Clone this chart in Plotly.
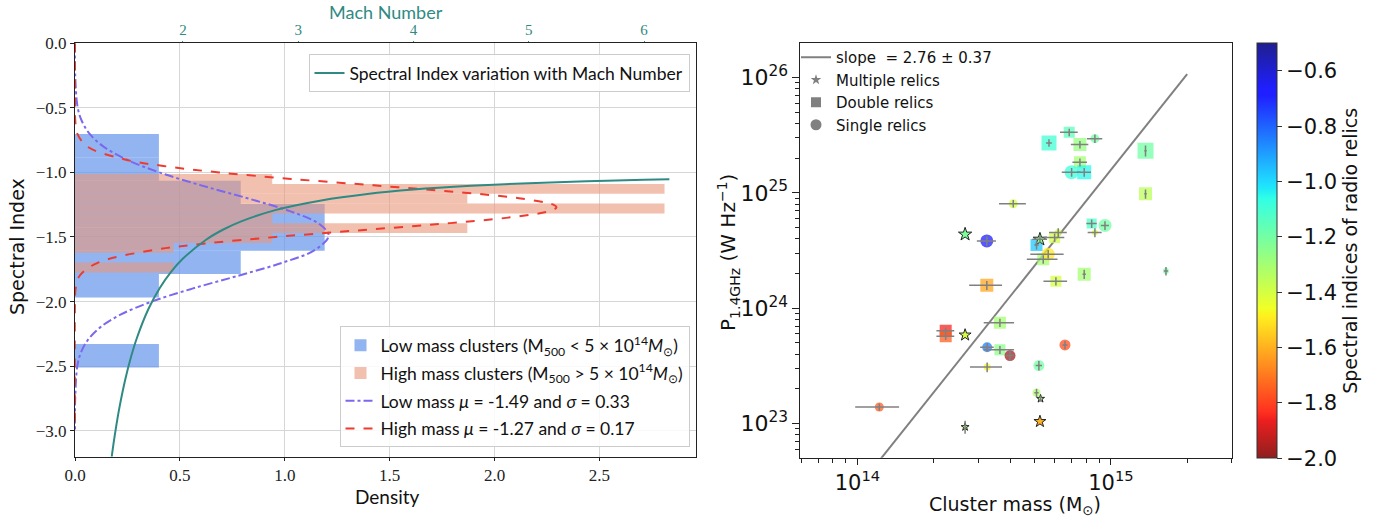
import plotly.graph_objects as go

# ---------------- Left panel data ----------------
LOW_BIN_EDGES = [-0.703, -0.884, -1.064, -1.245, -1.426, -1.606, -1.787, -1.968, -2.148, -2.329, -2.510]
LOW_DENSITY = [0.40, 0.40, 0.79, 1.19, 1.19, 0.79, 0.40, 0.0, 0.0, 0.40]
HIGH_BIN_EDGES = [-1.013, -1.089, -1.165, -1.241, -1.318, -1.394, -1.470, -1.546, -1.622, -1.698, -1.775]
HIGH_DENSITY = [0.94, 2.81, 1.87, 2.81, 0.94, 1.87, 0.94, 0.47, 0.0, 0.47]

LOW_FIT_ALPHA = [0.0, -0.25, -0.5, -0.6, -0.7, -0.8, -0.9, -1.0, -1.1, -1.2, -1.3, -1.4, -1.49,
                 -1.6, -1.7, -1.8, -1.9, -2.0, -2.1, -2.2, -2.3, -2.4, -2.5, -2.75, -3.0]
LOW_FIT_DENSITY = [0.0, 0.001, 0.013, 0.032, 0.069, 0.136, 0.245, 0.402, 0.601, 0.822, 1.024, 1.165, 1.209,
                   1.144, 0.987, 0.778, 0.559, 0.366, 0.219, 0.120, 0.060, 0.027, 0.011, 0.001, 0.0]
HIGH_FIT_ALPHA = [0.0, -0.5, -0.6, -0.7, -0.8, -0.9, -0.95, -1.0, -1.05, -1.1, -1.15, -1.2, -1.25, -1.27,
                  -1.3, -1.35, -1.4, -1.45, -1.5, -1.55, -1.6, -1.7, -1.8, -1.9, -2.0, -3.0]
HIGH_FIT_DENSITY = [0.0, 0.0001, 0.0014, 0.011, 0.059, 0.238, 0.421, 0.687, 1.030, 1.423, 1.808, 2.116, 2.280, 2.295,
                    2.261, 2.064, 1.735, 1.342, 0.956, 0.627, 0.378, 0.108, 0.022, 0.003, 0.0, 0.0]

MACH = [1.37, 1.40, 1.42, 1.45, 1.50, 1.55, 1.60, 1.70, 1.80, 1.90, 2.00, 2.20, 2.35, 2.50, 2.80,
        3.20, 3.60, 4.00, 4.50, 5.00, 5.50, 6.00, 6.22]
MACH_ALPHA = [-3.281, -3.083, -2.968, -2.814, -2.600, -2.426, -2.282, -2.058, -1.893, -1.766, -1.667,
              -1.521, -1.442, -1.381, -1.292, -1.217, -1.167, -1.133, -1.104, -1.083, -1.068, -1.057, -1.053]

DENSITY_TICKS = [0.0, 0.5, 1.0, 1.5, 2.0, 2.5]
INDEX_TICKS = [0.0, -0.5, -1.0, -1.5, -2.0, -2.5, -3.0]
MACH_TICKS = [2, 3, 4, 5, 6]

# ---------------- Right panel data ----------------
# mass in 1e14 Msun, power in 1e24 W/Hz
SINGLE_MASS = [3.24, 4.12, 8.65, 7.00, 9.48, 5.66, 3.25, 4.00, 6.59, 3.25, 5.20, 5.09, 1.22, 16.5, 8.65, 6.20]
SINGLE_POWER = [3.83, 8.05, 29.5, 15.1, 5.22, 2.94, 0.458, 0.388, 0.48, 0.308, 0.318, 0.185, 0.139, 2.10, 4.52, 4.52]
SINGLE_INDEX = [-0.68, -1.40, -1.20, -1.08, -1.20, -1.50, -0.85, -1.97, -1.78, -1.48, -1.20, -1.32, -1.75, -1.20, -1.42, -1.40]
SINGLE_SIZE = [13, 9, 9, 14, 13, 13, 10, 11, 11, 7, 11, 8, 9, 6, 6, 7]
SINGLE_MASS_ERR = [0.28, 0.50, 0.60, 0.60, 0.35, 0.85, 0.20, 0.15, 0.15, 0.47, 0.15, 0.10, 0.24, 0.30, 0.55, 0.50]
SINGLE_POWER_ERR = [0.35, 0.60, 2.5, 1.3, 0.45, 0.25, 0.04, 0.04, 0.04, 0.03, 0.03, 0.015, 0.01, 0.18, 0.40, 0.40]

DOUBLE_MASS = [5.70, 6.85, 7.55, 7.55, 7.85, 13.7, 13.7, 5.09, 6.00, 5.41, 6.07, 7.85, 3.24, 3.65, 3.65, 2.23, 2.23, 8.40]
DOUBLE_POWER = [27.1, 33.5, 26.2, 18.4, 15.1, 23.2, 9.8, 3.53, 4.09, 2.65, 1.71, 1.97, 1.58, 0.748, 0.435, 0.638, 0.570, 5.41]
DOUBLE_INDEX = [-1.10, -1.15, -1.27, -1.30, -1.05, -1.20, -1.35, -0.97, -1.40, -1.30, -1.40, -1.30, -1.62, -1.30, -1.25, -1.85, -1.75, -1.12]
DOUBLE_SIZE = [15, 11, 13, 12, 14, 16, 13, 12, 11, 12, 11, 13, 13, 12, 11, 12, 12, 10]
DOUBLE_MASS_ERR = [0.15, 0.55, 0.60, 0.50, 0.50, 0.15, 0.15, 0.10, 0.55, 0.75, 0.65, 0.12, 0.48, 0.50, 0.50, 0.18, 0.18, 0.40]
DOUBLE_POWER_ERR = [2.0, 2.5, 2.0, 1.5, 1.3, 2.5, 0.9, 0.30, 0.35, 0.22, 0.14, 0.18, 0.14, 0.06, 0.035, 0.04, 0.04, 0.45]

MULTI_MASS = [2.66, 5.25, 2.66, 2.66, 5.28, 5.25]
MULTI_POWER = [4.37, 3.95, 0.585, 0.0933, 0.164, 0.104]
MULTI_INDEX = [-1.22, -1.25, -1.40, -1.30, -1.30, -1.60]
MULTI_SIZE = [10, 10, 9, 6, 6, 9]
MULTI_MASS_ERR = [0.0, 0.35, 0.0, 0.0, 0.0, 0.0]
MULTI_POWER_ERR = [0.0, 0.3, 0.0, 0.012, 0.01, 0.0]

FIT_MASS = [1.0, 20.0]
FIT_POWER = [0.0275, 107.0]

LABELS = ["Seahorse", "R2", "R3"]
LABEL_MASS = [2.66, 2.66, 2.66]
LABEL_POWER = [6.3, 0.80, 0.128]

MASS_TICKS = [1e14, 1e15]
POWER_TICKS = [1e23, 1e24, 1e25, 1e26]
CBAR_TICKS = [-0.6, -0.8, -1.0, -1.2, -1.4, -1.6, -1.8, -2.0]

MASS_UNIT = 1e14
POWER_UNIT = 1e24

# ---------------- styles ----------------
W, H = 1396, 521
TEAL = "#2f8a84"
SERIF = "Liberation Serif"
CMSANS = "Lato"
SANS = "DejaVu Sans"


def px_x(px):
    return px / W


def px_y(py):
    return 1 - py / H


def jet_r_light(alpha=0.88):
    red = [(0, 0), (0.35, 0), (0.66, 1), (0.89, 1), (1, 0.5)]
    green = [(0, 0), (0.125, 0), (0.375, 1), (0.64, 1), (0.91, 0), (1, 0)]
    blue = [(0, 0.5), (0.11, 1), (0.34, 1), (0.65, 0), (1, 0)]

    def interp(seg, q):
        for (x0, y0), (x1, y1) in zip(seg[:-1], seg[1:]):
            if x0 <= q <= x1:
                return y0 + (y1 - y0) * (q - x0) / (x1 - x0)
        return seg[-1][1]

    qs = sorted(set([p for s in (red, green, blue) for p, _ in s]))
    scale = []
    for q in qs:
        rgb = [interp(s, q) * 255 * alpha + 255 * (1 - alpha) for s in (red, green, blue)]
        scale.append((1 - q, "rgb(%d,%d,%d)" % tuple(round(c) for c in rgb)))
    scale.sort(key=lambda t: t[0])
    return [[p, c] for p, c in scale]


CSCALE = jet_r_light()


def centers(edges):
    return [(a + b) / 2 for a, b in zip(edges[:-1], edges[1:])]


def widths(edges):
    return [abs(b - a) for a, b in zip(edges[:-1], edges[1:])]


fig = go.Figure()

# ---- left panel ----
fig.add_trace(go.Bar(
    orientation="h", y=centers(LOW_BIN_EDGES), x=LOW_DENSITY, width=widths(LOW_BIN_EDGES),
    marker=dict(color="rgba(100,149,237,0.7)", line=dict(width=0)),
    name="Low mass clusters (M<sub>500</sub> &lt; 5 × 10<sup>14</sup><i>M</i><sub>⊙</sub>)",
    legend="legend2", legendgroup="a", xaxis="x", yaxis="y", hoverinfo="skip"))
fig.add_trace(go.Bar(
    orientation="h", y=centers(HIGH_BIN_EDGES), x=HIGH_DENSITY, width=widths(HIGH_BIN_EDGES),
    marker=dict(color="rgba(233,150,122,0.6)", line=dict(width=0)),
    name="High mass clusters (M<sub>500</sub> &gt; 5 × 10<sup>14</sup><i>M</i><sub>⊙</sub>)",
    legend="legend2", legendgroup="b", xaxis="x", yaxis="y", hoverinfo="skip"))
fig.add_trace(go.Scatter(
    x=LOW_FIT_DENSITY, y=LOW_FIT_ALPHA, mode="lines",
    line=dict(color="#7b68ee", width=2, dash="dashdot", shape="spline"),
    name="Low mass <i>μ</i> = -1.49 and <i>σ</i> = 0.33", legend="legend2", legendgroup="c",
    xaxis="x", yaxis="y"))
fig.add_trace(go.Scatter(
    x=HIGH_FIT_DENSITY, y=HIGH_FIT_ALPHA, mode="lines",
    line=dict(color="#ee3b2e", width=2, dash="dash", shape="spline"),
    name="High mass <i>μ</i> = -1.27 and <i>σ</i> = 0.17", legend="legend2", legendgroup="d",
    xaxis="x", yaxis="y"))
fig.add_trace(go.Scatter(
    x=MACH, y=MACH_ALPHA, mode="lines", line=dict(color=TEAL, width=2, shape="spline"),
    name="Spectral Index variation with Mach Number", legend="legend",
    xaxis="x3", yaxis="y"))

# ---- right panel ----
GRAY = "#808080"
fig.add_trace(go.Scatter(
    x=[m * MASS_UNIT for m in FIT_MASS], y=[p * POWER_UNIT for p in FIT_POWER], mode="lines",
    line=dict(color=GRAY, width=2), name="slope  = 2.76 ± 0.37",
    legend="legend3", xaxis="x2", yaxis="y2"))
for sym, nm, sz in (("star", "Multiple relics", 8), ("square", "Double relics", 10), ("circle", "Single relics", 11)):
    fig.add_trace(go.Scatter(
        x=[None], y=[None], mode="markers",
        marker=dict(symbol=sym, color=GRAY, size=sz, line=dict(width=0)),
        name=nm, legend="legend3", xaxis="x2", yaxis="y2"))

groups = [
    ("square", DOUBLE_MASS, DOUBLE_POWER, DOUBLE_INDEX, DOUBLE_SIZE, DOUBLE_MASS_ERR, DOUBLE_POWER_ERR, False),
    ("circle", SINGLE_MASS, SINGLE_POWER, SINGLE_INDEX, SINGLE_SIZE, SINGLE_MASS_ERR, SINGLE_POWER_ERR, True),
    ("star", MULTI_MASS, MULTI_POWER, MULTI_INDEX, MULTI_SIZE, MULTI_MASS_ERR, MULTI_POWER_ERR, False),
]
for sym, ms, ps, idx, sz, me, pe, scale in groups:
    xs = [m * MASS_UNIT for m in ms]
    ys = [p * POWER_UNIT for p in ps]
    mk = dict(symbol=sym, size=sz, color=idx, colorscale=CSCALE, cmin=-2.0, cmax=-0.5,
              opacity=0.75 if sym != "star" else 1.0,
              line=dict(width=1 if sym == "star" else 0, color="#222"))
    if scale:
        mk.update(showscale=True, colorbar=dict(
            x=px_x(1257), xanchor="left", y=px_y(250.8), yanchor="middle",
            len=415 / H, lenmode="fraction", thickness=20, thicknessmode="pixels",
            xpad=0, ypad=0, outlinewidth=1, outlinecolor="#333",
            tickvals=CBAR_TICKS, tickformat=".1f", ticks="outside", ticklen=5, tickcolor="#333",
            tickfont=dict(family=SANS, size=21, color="#111"),
            title=dict(text="Spectral indices of radio relics", side="right",
                       font=dict(family=SANS, size=19, color="#111"))))
    fig.add_trace(go.Scatter(x=xs, y=ys, mode="markers", marker=mk, showlegend=False,
                             xaxis="x2", yaxis="y2", hoverinfo="skip"))
for sym, ms, ps, idx, sz, me, pe, scale in groups:
    fig.add_trace(go.Scatter(
        x=[m * MASS_UNIT for m in ms], y=[p * POWER_UNIT for p in ps], mode="markers",
        marker=dict(size=2, color="rgba(0,0,0,0)"), showlegend=False, hoverinfo="skip",
        error_x=dict(type="data", array=[e * MASS_UNIT for e in me], color=GRAY, thickness=1.5, width=0),
        error_y=dict(type="data", array=[e * POWER_UNIT for e in pe], color=GRAY, thickness=1.5, width=0),
        xaxis="x2", yaxis="y2"))

annotations = []
for t, m, p in zip(LABELS, LABEL_MASS, LABEL_POWER):
    annotations.append(dict(text=t, x=m * MASS_UNIT, y=p * POWER_UNIT, xref="x2", yref="y2",
                            xanchor="center", yanchor="middle",
                            showarrow=False, font=dict(family=SANS, size=16, color="#222")))


def paper_text(text, cx, cy, font, angle=0):
    return dict(text=text, x=px_x(cx), y=px_y(cy), xref="paper", yref="paper",
                xanchor="center", yanchor="middle", showarrow=False, textangle=angle, font=font)


annotations.append(paper_text("Mach Number", 386, 12, dict(family=CMSANS, size=18, color=TEAL)))
annotations.append(paper_text("Density", 387, 496, dict(family=CMSANS, size=19, color="#111")))
annotations.append(paper_text("Spectral Index", 17, 247, dict(family=SANS, size=19, color="#111"), -90))
annotations.append(paper_text("Cluster mass (M<sub>⊙</sub>)", 1015, 505, dict(family=SANS, size=19, color="#111")))
annotations.append(paper_text("P<sub>1.4GHz</sub> (W Hz<sup>−1</sup>)", 728, 252,
                              dict(family=SANS, size=20, color="#111"), -90))

AX = "#222"
mass_minor = [v * 1e13 for v in (6, 7, 8, 9)] + [v * 1e14 for v in range(2, 10)] + [2e15, 3e15]
power_minor = ([v * 1e22 for v in range(6, 10)] + [v * 1e23 for v in range(2, 10)] +
               [v * 1e24 for v in range(2, 10)] + [v * 1e25 for v in range(2, 10)])

fig.update_layout(
    width=W, height=H, autosize=False, margin=dict(l=0, r=0, t=0, b=0, pad=0, autoexpand=False),
    paper_bgcolor="white", plot_bgcolor="white", barmode="overlay",
    font=dict(family=SANS, color="#111"),
    xaxis=dict(domain=[px_x(75), px_x(696)], anchor="y", range=[0, 2.96], automargin=False,
               tickvals=DENSITY_TICKS, tickformat=".1f", ticks="outside", ticklen=3, tickcolor=AX,
               showline=True, linecolor=AX, linewidth=1, mirror=True,
               showgrid=True, gridcolor="#d6d6d6", gridwidth=1.2, zeroline=False,
               tickfont=dict(family=SERIF, size=17, color="#222")),
    xaxis3=dict(overlaying="x", side="top", anchor="y", range=[1.063, 6.451], automargin=False,
                tickvals=MACH_TICKS, ticks="outside", ticklen=1, tickcolor=TEAL,
                showgrid=False, zeroline=False, showline=False,
                tickfont=dict(family=SERIF, size=15, color=TEAL)),
    yaxis=dict(domain=[px_y(456.5), px_y(43.3)], anchor="x", range=[-3.2, 0.0], automargin=False,
               tickvals=INDEX_TICKS, tickformat=".1f", ticks="outside", ticklen=4, tickcolor=AX,
               showline=True, linecolor=AX, linewidth=1, mirror=True,
               showgrid=True, gridcolor="#d6d6d6", gridwidth=1.2, zeroline=False,
               tickfont=dict(family=SERIF, size=17, color="#222")),
    xaxis2=dict(domain=[px_x(800.4), px_x(1232)], anchor="y2", type="log", range=[13.775, 15.478],
                automargin=False,
                tickvals=MASS_TICKS, ticktext=["10<sup>14</sup>", "10<sup>15</sup>"],
                ticks="outside", ticklen=6, tickcolor=AX,
                minor=dict(tickvals=mass_minor, ticks="outside", ticklen=4, tickcolor=AX, showgrid=False),
                showline=True, linecolor=AX, linewidth=1, mirror=True, showgrid=False, zeroline=False,
                tickfont=dict(family=SANS, size=21, color="#111")),
    yaxis2=dict(domain=[px_y(457.7), px_y(43.3)], anchor="x2", type="log", range=[22.703, 26.297],
                automargin=False,
                tickvals=POWER_TICKS, ticktext=["10<sup>23</sup>", "10<sup>24</sup>", "10<sup>25</sup>", "10<sup>26</sup>"],
                ticks="outside", ticklen=7, tickcolor=AX,
                minor=dict(tickvals=power_minor, ticks="outside", ticklen=4, tickcolor=AX, showgrid=False),
                showline=True, linecolor=AX, linewidth=1, mirror=True, showgrid=False, zeroline=False,
                tickfont=dict(family=SANS, size=22, color="#111")),
    legend=dict(x=px_x(689.5), xanchor="right", y=px_y(54), yanchor="top",
                bgcolor="rgba(255,255,255,0.85)", bordercolor="#cccccc", borderwidth=1,
                font=dict(family=CMSANS, size=17.5, color="#111")),
    legend2=dict(x=px_x(689.5), xanchor="right", y=px_y(447.3), yanchor="bottom",
                 bgcolor="rgba(255,255,255,0.85)", bordercolor="#cccccc", borderwidth=1,
                 tracegroupgap=2, font=dict(family=CMSANS, size=17.5, color="#111")),
    legend3=dict(x=px_x(796), xanchor="left", y=px_y(41), yanchor="top",
                 bgcolor="rgba(255,255,255,0)", borderwidth=0,
                 font=dict(family=SANS, size=15, color="#111")),
    annotations=annotations,
    showlegend=True,
)

fig.write_html("out.html")
